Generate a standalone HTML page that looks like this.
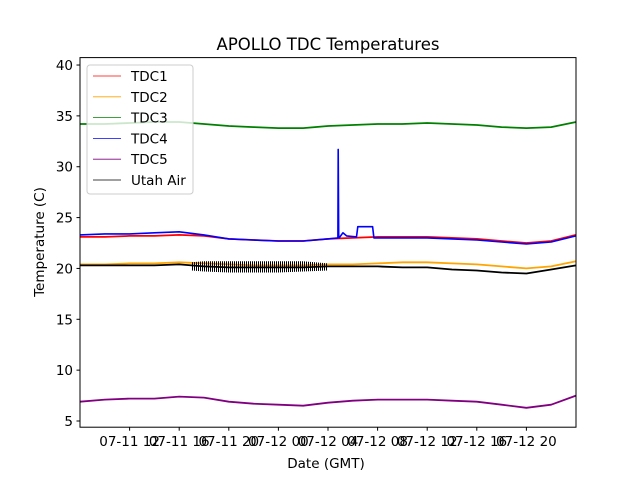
<!DOCTYPE html>
<html><head><meta charset="utf-8"><style>
body{margin:0;background:#fff;}
svg text{font-family:"DejaVu Sans","Liberation Sans",sans-serif;fill:#000;}
</style></head><body>
<svg id="chart" width="640" height="480" viewBox="0 0 640 480" xmlns="http://www.w3.org/2000/svg">
<defs>
<pattern id="noise" patternUnits="userSpaceOnUse" width="2" height="20">
<rect x="0" y="0" width="1" height="20" fill="#000"/>
</pattern>
</defs>
<rect width="640" height="480" fill="#fff"/>
<text x="328" y="50" text-anchor="middle" font-size="16.5">APOLLO TDC Temperatures</text>
<g id="plot"></g>
<g id="axes"></g>
<text x="326" y="468" text-anchor="middle" font-size="13.5">Date (GMT)</text>
<text transform="translate(44,242) rotate(-90)" text-anchor="middle" font-size="13.5">Temperature (C)</text>
<g id="legend"></g>
</svg>
<script>
// hours since 07-11 08:00 GMT, 2-hour steps
const hours = [0,2,4,6,8,10,12,14,16,18,20,22,24,26,28,30,32,34,36,38,40];
const tdc1 = [23.1,23.1,23.2,23.2,23.3,23.2,22.9,22.8,22.7,22.7,22.9,23.0,23.1,23.1,23.1,23.0,22.9,22.7,22.5,22.7,23.3];
const tdc2 = [20.4,20.4,20.5,20.5,20.6,20.5,20.4,20.3,20.3,20.3,20.4,20.4,20.5,20.6,20.6,20.5,20.4,20.2,20.0,20.2,20.7];
const tdc3 = [34.2,34.2,34.3,34.4,34.4,34.2,34.0,33.9,33.8,33.8,34.0,34.1,34.2,34.2,34.3,34.2,34.1,33.9,33.8,33.9,34.4];
const tdc5 = [6.9,7.1,7.2,7.2,7.4,7.3,6.9,6.7,6.6,6.5,6.8,7.0,7.1,7.1,7.1,7.0,6.9,6.6,6.3,6.6,7.5];
const air = [20.3,20.3,20.3,20.3,20.4,20.2,20.1,20.1,20.1,20.1,20.2,20.2,20.2,20.1,20.1,19.9,19.8,19.6,19.5,19.9,20.3];
// TDC4 at irregular times (includes spike and plateau)
const tdc4Hours = [0,2,4,6,8,10,12,14,16,18,20,20.8,20.82,20.86,20.9,21.2,21.5,22.3,22.4,23.6,23.7,24,26,28,30,32,34,36,38,40];
const tdc4 = [23.3,23.4,23.4,23.5,23.6,23.3,22.9,22.8,22.7,22.7,22.9,23.0,31.7,23.1,23.0,23.5,23.2,23.1,24.1,24.1,23.0,23.0,23.0,23.0,22.9,22.8,22.6,22.4,22.6,23.2];
// noisy band of Utah Air between these hours (min/max)
const airBandHours = [9,10,12,14,16,18,20];
const airBandLow = [19.8,19.7,19.6,19.6,19.6,19.7,19.8];
const airBandHigh = [20.6,20.7,20.7,20.7,20.7,20.7,20.5];
const xTickLabels = ["07-11 12","07-11 16","07-11 20","07-12 00","07-12 04","07-12 08","07-12 12","07-12 16","07-12 20"];
const xTickHours = [4,8,12,16,20,24,28,32,36];
const yTicks = [5,10,15,20,25,30,35,40];

const L=80,R=576,T=57.6,B=427.2, X0=0,X1=40, Y0=4.39,Y1=40.73;
const xs=h=>L+(h-X0)/(X1-X0)*(R-L);
const ys=v=>B-(v-Y0)/(Y1-Y0)*(B-T);
const NS="http://www.w3.org/2000/svg";
function mk(tag,attrs,parent){const e=document.createElementNS(NS,tag);for(const k in attrs)e.setAttribute(k,attrs[k]);parent.appendChild(e);return e;}
const plot=document.getElementById('plot'), axes=document.getElementById('axes'), legend=document.getElementById('legend');
function line(hs,vs,color,name,w){
  const d=hs.map((h,i)=>(i?'L':'M')+xs(h).toFixed(1)+','+ys(vs[i]).toFixed(1)).join('');
  const p=mk('path',{d:d,fill:'none',stroke:color,'stroke-width':w||1.8,'stroke-linejoin':'round'},plot);
  
  
}
line(hours,tdc3,'green','series-tdc3');
line(hours,tdc1,'red','series-tdc1');
line(tdc4Hours,tdc4,'blue','series-tdc4',1.6);
line(hours,tdc2,'orange','series-tdc2');
line(hours,air,'black','series-utah-air');
{
  let d='M'+airBandHours.map((h,i)=>xs(h).toFixed(1)+','+ys(airBandHigh[i]).toFixed(1)).join('L');
  for(let i=airBandHours.length-1;i>=0;i--) d+='L'+xs(airBandHours[i]).toFixed(1)+','+ys(airBandLow[i]).toFixed(1);
  const p=mk('path',{d:d+'Z',fill:'url(#noise)'},plot);
  
  
}
line(hours,tdc5,'purple','series-tdc5');
mk('rect',{x:L,y:T,width:R-L,height:B-T,fill:'none',stroke:'#000','stroke-width':1},axes);
yTicks.forEach(v=>{
  const y=ys(v);
  const t=mk('line',{x1:L-3.5,x2:L,y1:y,y2:y,stroke:'#000'},axes);
  
  
  const tx=mk('text',{x:L-7,y:y+5,'text-anchor':'end','font-size':13.5},axes);
  tx.textContent=v;
  
  
});
xTickHours.forEach((h,i)=>{
  const x=xs(h);
  const t=mk('line',{x1:x,x2:x,y1:B,y2:B+3.5,stroke:'#000'},axes);
  
  
  const tx=mk('text',{x:x,y:B+19,'text-anchor':'middle','font-size':13.5},axes);
  tx.textContent=xTickLabels[i];
  
  
});
const lg=[['TDC1','red'],['TDC2','orange'],['TDC3','green'],['TDC4','blue'],['TDC5','purple'],['Utah Air','black']];
const box=mk('rect',{x:87,y:65,width:106,height:129,rx:3,fill:'#fff','fill-opacity':0.8,stroke:'#ccc'},legend);


lg.forEach((e,i)=>{
  const y=76+i*20.8;
  const l=mk('line',{x1:93,x2:121,y1:y,y2:y,stroke:e[1],'stroke-width':0.8},legend);
  
  
  const t=mk('text',{x:131,y:y+5,'font-size':13.5},legend);
  t.textContent=e[0];
  
  
});
</script>
</body></html>
